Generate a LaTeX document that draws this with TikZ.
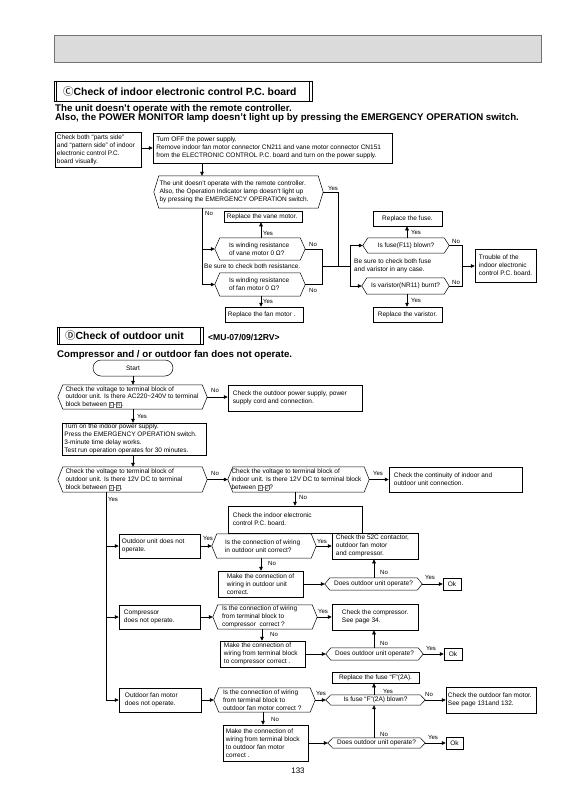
\documentclass[tikz,border=0pt]{standalone}
\usepackage{fontspec}
\setmainfont{Liberation Sans}
\newfontfamily\cjk{Noto Sans CJK SC}
\usetikzlibrary{arrows.meta,shadows}
\newcommand\tb[1]{\textcolor{black!60}{\setlength\fboxsep{0.5pt}\setlength\fboxrule{0.35pt}\fbox{\fontsize{5.4}{6}\selectfont #1}}}
\tikzset{
 every node/.style={font=\fontsize{6.5}{7.9}\selectfont, text=black},
 bx/.style={draw=black, line width=0.5pt, fill=white, inner sep=0pt,
   drop shadow={shadow xshift=0.6pt, shadow yshift=-0.6pt, opacity=1, fill=black!80}},
 hexline/.style={draw=black, line width=0.5pt},
 ln/.style={draw=black, line width=0.5pt},
 arr/.style={ln, -{Triangle[length=4pt,width=3.6pt]}},
 lbl/.style={inner sep=0pt, anchor=west, font=\fontsize{6}{7}\selectfont},
 txt/.style={inner sep=0pt, anchor=west, align=left},
 txtc/.style={inner sep=0pt, anchor=center, align=center},
 head/.style={inner sep=0pt, anchor=west, font=\bfseries\fontsize{9.7}{11}\selectfont},
}
% box: [left pad]{name}{x1}{y1}{x2}{y2}{text}
\newcommand\mybox[7][2.5]{%
 \pgfmathsetmacro\cxx{(#3+#5)/2}\pgfmathsetmacro\cyy{(#4+#6)/2}%
 \pgfmathsetmacro\www{#5-#3}\pgfmathsetmacro\hhh{#6-#4}%
 \node[bx, minimum width=\www pt, minimum height=\hhh pt] (#2) at (\cxx,\cyy) {};
 \node[txt] (#2t) at ([xshift=#1pt]#2.west) {#7};}
\newcommand\myboxc[5]{%
 \pgfmathsetmacro\cxx{(#2+#4)/2}\pgfmathsetmacro\cyy{(#3+#5)/2}%
 \pgfmathsetmacro\www{#4-#2}\pgfmathsetmacro\hhh{#5-#3}%
 \node[bx, minimum width=\www pt, minimum height=\hhh pt] (#1) at (\cxx,\cyy) {};
 \node[txtc] (#1t) at (#1.center) {\myboxtext};}
\newcommand\hexframe[1]{\draw[hexline] (#1.west) -- ([xshift=5pt]#1.north west) -- ([xshift=-5pt]#1.north east) -- (#1.east) -- ([xshift=-5pt]#1.south east) -- ([xshift=5pt]#1.south west) -- cycle;}
\newcommand\myhex[7][6]{%
 \pgfmathsetmacro\cxx{(#3+#5)/2}\pgfmathsetmacro\cyy{(#4+#6)/2}%
 \pgfmathsetmacro\www{#5-#3}\pgfmathsetmacro\hhh{#6-#4}%
 \node[inner sep=0pt, minimum width=\www pt, minimum height=\hhh pt] (#2) at (\cxx,\cyy) {};
 \hexframe{#2}
 \node[txt] (#2t) at ([xshift=#1pt]#2.west) {#7};}
\newcommand\myhexc[6]{%
 \pgfmathsetmacro\cxx{(#2+#4)/2}\pgfmathsetmacro\cyy{(#3+#5)/2}%
 \pgfmathsetmacro\www{#4-#2}\pgfmathsetmacro\hhh{#5-#3}%
 \node[inner sep=0pt, minimum width=\www pt, minimum height=\hhh pt] (#1) at (\cxx,\cyy) {};
 \hexframe{#1}
 \node[txtc] (#1t) at (#1.center) {#6};}
\begin{document}
\begin{tikzpicture}[x=1pt,y=-1pt]
\useasboundingbox (0,0) rectangle (569,805);
\fill[white] (0,0) rectangle (569,805);
% top bar
\node[draw=black!55, fill=black!14, line width=0.8pt, minimum width=487pt, minimum height=27pt, inner sep=0pt] (bar) at (297.5,48.5) {};
% section C header
\node[draw, line width=0.8pt, minimum width=258pt, minimum height=20pt, inner sep=0pt] (hC) at (183,91) {};
\draw[line width=0.5pt] ([xshift=2.6pt]hC.north west) -- ([xshift=2.6pt]hC.south west);
\draw[line width=0.5pt] ([xshift=-3pt]hC.north east) -- ([xshift=-3pt]hC.south east);
\node[inner sep=0pt, anchor=west, font=\bfseries\fontsize{10.4}{12}\selectfont] (hCt) at (63,91.5) {{\cjk\mdseries\fontsize{10.5}{11}\selectfont Ⓒ}Check of indoor electronic control P.C. board};
\node[head] (s1) at (55,109) {The unit doesn’t operate with the remote controller.};
\node[head] (s2) at (55,118.5) {Also, the POWER MONITOR lamp doesn’t light up by pressing the EMERGENCY OPERATION switch.};
% section C chart
\mybox[2]{A}{55}{132}{141}{167}{Check both “parts side”\\and “pattern side” of indoor\\electronic control P.C.\\board visually.}
\mybox[3.5]{B}{153}{133}{392}{163}{Turn OFF the power supply.\\Remove indoor fan motor connector CN211 and vane motor connector CN151\\from the ELECTRONIC CONTROL P.C. board and turn on the power supply.}
\myhex[5.5]{H1}{154}{176}{323}{208}{The unit doesn’t operate with the remote controller.\\Also, the Operation Indicator lamp doesn’t light up\\by pressing the EMERGENCY OPERATION switch.}
\myhex[14]{V}{215}{238}{305}{260}{Is winding resistance\\of vane motor 0 Ω?}
\myhex[14]{F}{215}{273}{305}{296}{Is winding resistance\\of fan motor 0 Ω?}
\mybox[3]{RV}{224}{211}{302}{222}{Replace the vane motor.}
\mybox[3]{RF}{225}{307}{303}{322}{Replace the fan motor .}
\node[txt] (bs1) at (204,266) {Be sure to check both resistance.};
\myhexc{Fu}{363}{238}{449}{253}{Is fuse(F11) blown?}
\myhexc{Va}{362}{278}{449}{294}{Is varistor(NR11) burnt?}
\def\myboxtext{Replace the fuse.}\myboxc{RFu}{373}{211}{442}{226}
\def\myboxtext{Replace the varistor.}\myboxc{RVa}{373}{307}{442}{322}
\node[txt] (bs2) at (354,266) {Be sure to check both fuse\\and varistor in any case.};
\mybox[4]{Tr}{475}{249}{536}{282}{Trouble of the\\indoor electronic\\control P.C. board.}
\coordinate (xc1) at (202,0);
\coordinate (xc2) at (261,0);
\coordinate (xc4) at (407,0);
\coordinate (xj) at (338,0);
\coordinate (j1) at (322,266);
\coordinate (j2) at (350,266);
\coordinate (j3) at (462,266);
\draw[arr] (A.east |- B.west) -- (B.west);
\draw[arr] (B.south -| xc1) -- (H1.north -| xc1);
\draw[ln] (H1.south -| xc1) -- (F.west -| xc1);
\draw[arr] (V.west -| xc1) -- (V.west);
\draw[arr] (F.west -| xc1) -- (F.west);
\draw[arr] (V.north -| xc2) -- (RV.south -| xc2);
\draw[arr] (F.south -| xc2) -- (RF.north -| xc2);
\draw[ln] (V.east) -- (V.east -| j1) -- (F.east -| j1) -- (F.east);
\draw[ln] (H1.east) -- (H1.east -| xj) -- (j1 -| xj);
\draw[ln] (j1) -- (j2);
\draw[ln] (Fu.west -| j2) -- (Va.west -| j2);
\draw[arr] (Fu.west -| j2) -- (Fu.west);
\draw[arr] (Va.west -| j2) -- (Va.west);
\draw[arr] (Fu.north -| xc4) -- (RFu.south -| xc4);
\draw[arr] (Va.south -| xc4) -- (RVa.north -| xc4);
\draw[ln] (Fu.east) -- (Fu.east -| j3) -- (Va.east -| j3) -- (Va.east);
\draw[arr] (j3) -- (Tr.west |- j3);
\node[lbl] (c1) at (328,188) {Yes};
\node[lbl] (c2) at (205,213) {No};
\node[lbl] (c3) at (263,233) {Yes};
\node[lbl] (c4) at (263,301) {Yes};
\node[lbl] (c5) at (309,244) {No};
\node[lbl] (c6) at (309,290) {No};
\node[lbl] (c7) at (411,232) {Yes};
\node[lbl] (c8) at (411,300) {Yes};
\node[lbl] (c9) at (452,241) {No};
\node[lbl] (c10) at (452,282) {No};
% section D header
\node[draw, line width=0.8pt, minimum width=146pt, minimum height=17pt, inner sep=0pt] (hD) at (130,335.5) {};
\draw[line width=0.5pt] ([xshift=2.6pt]hD.north west) -- ([xshift=2.6pt]hD.south west);
\draw[line width=0.5pt] ([xshift=-3pt]hD.north east) -- ([xshift=-3pt]hD.south east);
\node[inner sep=0pt, anchor=west, font=\bfseries\fontsize{10.4}{12}\selectfont] (hDt) at (65,336) {{\cjk\mdseries\fontsize{10.5}{11}\selectfont Ⓓ}Check of outdoor unit};
\node[inner sep=0pt, anchor=west, font=\bfseries\fontsize{8.6}{10}\selectfont] (mu) at (208,337) {<MU-07/09/12RV>};
\node[head] (s3) at (57,355) {Compressor and / or outdoor fan does not operate.};
% section D chart
\node[draw, line width=0.5pt, rounded corners=8pt, minimum width=80pt, minimum height=16pt, inner sep=0pt] (start) at (133,368) {Start};
\myhex[7.5]{D1}{58}{385}{207}{409}{Check the voltage to terminal block of\\outdoor unit. Is there AC220\textasciitilde240V to terminal\\block between \tb{L}-\tb{N}.}
\mybox[5]{P1}{228}{385}{362}{411}{Check the outdoor power supply, power\\supply cord and connection.}
\mybox[2.5]{T}{62}{423}{206}{455}{Turn on the indoor power supply.\\Press the EMERGENCY OPERATION switch.\\3-minute time delay works.\\Test run operation operates for 30 minutes.}
\myhex[7.5]{D2}{58}{467}{207}{492}{Check the voltage to terminal block of\\outdoor unit. Is there 12V DC to terminal\\block between \tb{1}-\tb{2}.}
\myhex[3.5]{D3}{228}{467}{369}{492}{Check the voltage to terminal block of\\indoor unit. Is there 12V DC to terminal block\\between \tb{1}-\tb{2}?}
\mybox[5]{CC}{389}{467}{522}{492}{Check the continuity of indoor and\\outdoor unit connection.}
\mybox[5]{PC}{228}{506}{362}{533}{Check the indoor electronic\\control P.C. board.}
\mybox[3]{O1}{119}{534}{200}{558}{Outdoor unit does not\\operate.}
\myhex[13]{W1}{212}{534}{316}{558}{Is the connection of wiring\\in outdoor unit correct?}
\mybox[4]{K1}{332}{533}{418}{559}{Check the 52C contactor,\\outdoor fan motor\\and compressor.}
\mybox[9]{M1}{218}{571}{303}{597}{Make the connection of\\wiring in outdoor unit\\correct.}
\myhexc{Q1}{325}{578}{422}{590}{Does outdoor unit operate?}
\def\myboxtext{Ok}\myboxc{Ok1}{443}{578}{461}{590}
\mybox[5]{O2}{119}{605}{200}{629}{Compressor\\does not operate.}
\myhex[9]{W2}{213}{605}{317}{629}{Is the connection of wiring\\from terminal block to\\compressor\ \ correct ?}
\mybox[10]{K2}{332}{604}{418}{630}{Check the compressor.\\See page 34.}
\mybox[4]{M2}{220}{641}{305}{667}{Make the connection of\\wiring from terminal block\\to compressor correct .}
\myhexc{Q2}{326}{648}{423}{660}{Does outdoor unit operate?}
\def\myboxtext{Ok}\myboxc{Ok2}{444}{648}{462}{660}
\mybox[6]{O3}{119}{688}{201}{712}{Outdoor fan motor\\does not operate.}
\myhex[9]{W3}{214}{688}{315}{712}{Is the connection of wiring\\from terminal block to\\outdoor fan motor correct ?}
\myhexc{Z}{326}{695}{425}{705}{Is fuse “F”(2A) blown?}
\def\myboxtext{Replace the fuse “F”(2A).}\myboxc{RZ}{332}{672}{419}{683}
\mybox[2]{CF}{446}{687}{536}{713}{Check the outdoor fan motor.\\See page 131and 132.}
\mybox[3]{M3}{223}{725}{308}{761}{Make the connection of\\wiring from terminal block\\to outdoor fan motor\\correct .}
\myhexc{Q3}{328}{738}{425}{748}{Does outdoor unit operate?}
\def\myboxtext{Ok}\myboxc{Ok3}{446}{737}{463}{749}
\node[inner sep=0pt, font=\fontsize{8}{9}\selectfont] (pg) at (298,771) {133};
% D connectors
\coordinate (xd1) at (133,0);
\coordinate (xd2) at (295,0);
\coordinate (xd3) at (106,0);
\coordinate (xr1) at (261,0);
\coordinate (xr2) at (262,0);
\coordinate (xr3) at (263,0);
\coordinate (xq) at (374,0);
\draw[arr] (start.south) -- (D1.north -| start.south);
\draw[arr] (D1.east) -- (P1.west |- D1.east);
\draw[arr] (D1.south -| xd1) -- (T.north -| xd1);
\draw[arr] (T.south -| xd1) -- (D2.north -| xd1);
\draw[arr] (D2.east) -- (D3.west);
\draw[arr] (D3.east) -- (CC.west |- D3.east);
\draw[arr] (D3.south -| xd2) -- (PC.north -| xd2);
\draw[ln] (D2.south -| xd3) -- (O3.west -| xd3);
\draw[arr] (O1.west -| xd3) -- (O1.west);
\draw[arr] (O2.west -| xd3) -- (O2.west);
\draw[arr] (O3.west -| xd3) -- (O3.west);
\draw[arr] (O1.east) -- (W1.west);
\draw[arr] (W1.east) -- (K1.west |- W1.east);
\draw[arr] (W1.south -| xr1) -- (M1.north -| xr1);
\draw[arr] (M1.east) -- (Q1.west);
\draw[arr] (Q1.north -| xq) -- (K1.south -| xq);
\draw[arr] (Q1.east) -- (Ok1.west);
\draw[arr] (O2.east) -- (W2.west);
\draw[arr] (W2.east) -- (K2.west |- W2.east);
\draw[arr] (W2.south -| xr2) -- (M2.north -| xr2);
\draw[arr] (M2.east) -- (Q2.west);
\draw[arr] (Q2.north -| xq) -- (K2.south -| xq);
\draw[arr] (Q2.east) -- (Ok2.west);
\draw[arr] (O3.east) -- (W3.west);
\draw[arr] (W3.east) -- (Z.west);
\draw[arr] (Z.north -| xq) -- (RZ.south -| xq);
\draw[arr] (Z.east) -- (CF.west |- Z.east);
\draw[arr] (W3.south -| xr3) -- (M3.north -| xr3);
\draw[arr] (M3.east) -- (Q3.west);
\draw[arr] (Q3.north -| xq) -- (Z.south -| xq);
\draw[arr] (Q3.east) -- (Ok3.west);
% D labels
\node[lbl] (d1) at (211,390) {No};
\node[lbl] (d2) at (137,416) {Yes};
\node[lbl] (d3) at (211,473) {No};
\node[lbl] (d4) at (108,499) {Yes};
\node[lbl] (d5) at (373,473) {Yes};
\node[lbl] (d6) at (299,497) {No};
\node[lbl] (d7) at (203,538) {Yes};
\node[lbl] (d8) at (317,541) {Yes};
\node[lbl] (d9) at (268,563) {No};
\node[lbl] (d10) at (380,572) {No};
\node[lbl] (d11) at (425,577) {Yes};
\node[lbl] (d12) at (318,611) {Yes};
\node[lbl] (d13) at (270,634) {No};
\node[lbl] (d14) at (380,643) {No};
\node[lbl] (d15) at (426,648) {Yes};
\node[lbl] (d16) at (316,693) {Yes};
\node[lbl] (d17) at (271,719) {No};
\node[lbl] (d18) at (383,691) {Yes};
\node[lbl] (d19) at (425,694) {No};
\node[lbl] (d20) at (380,734) {No};
\node[lbl] (d21) at (428,737) {Yes};
\end{tikzpicture}
\end{document}
